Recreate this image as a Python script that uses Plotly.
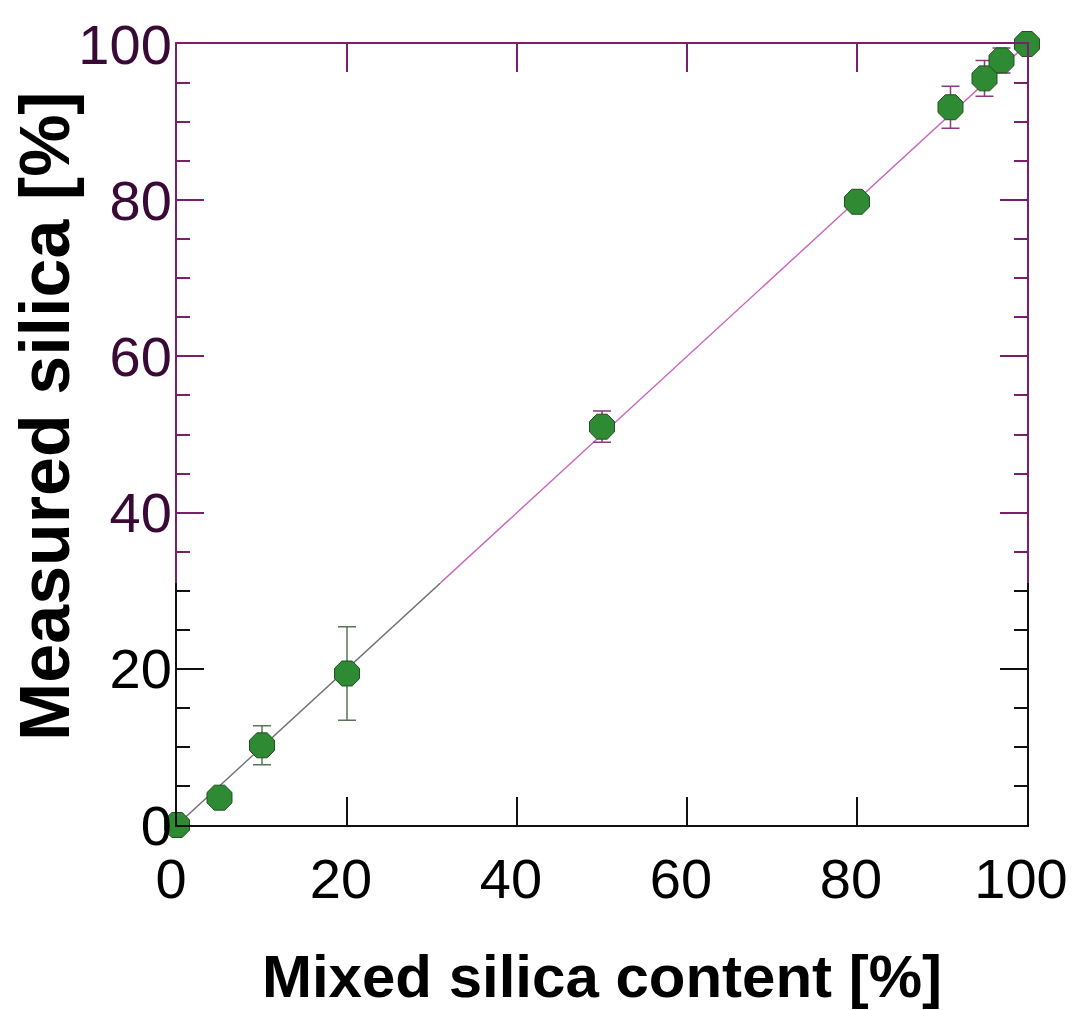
import plotly.graph_objects as go

# ---- data ----
mixed_lower = [0, 5, 10, 20]
measured_lower = [0, 3.5, 10.2, 19.4]
err_lower = [0, 0, 2.5, 6.0]

mixed_upper = [50, 80, 91, 95, 97, 100]
measured_upper = [51.0, 79.8, 91.9, 95.6, 97.9, 100]
err_upper = [2.0, 0.8, 2.7, 2.3, 1.6, 0]

fit_slope = 1.0
fit_intercept = 0.0
color_break = 31  # value where the drawing colour switches

x_ticks = [0, 20, 40, 60, 80, 100]
y_ticks_lower = [0, 20]
y_ticks_upper = [40, 60, 80, 100]
y_minor_lower = [5, 10, 15, 25, 30]
y_minor_upper = [35, 45, 50, 55, 65, 70, 75, 85, 90, 95]

PURPLE = "#7a1f6c"
BLACK = "#111111"
FONT = "Liberation Sans, Arial, Helvetica, sans-serif"

fit_x_lo = [0, color_break]
fit_x_hi = [color_break, 100]

fig = go.Figure()

fig.add_trace(go.Scatter(
    x=fit_x_lo, y=[fit_slope * v + fit_intercept for v in fit_x_lo],
    mode="lines", line=dict(color="#707070", width=1.4),
    xaxis="x", yaxis="y", showlegend=False, hoverinfo="skip"))
fig.add_trace(go.Scatter(
    x=fit_x_hi, y=[fit_slope * v + fit_intercept for v in fit_x_hi],
    mode="lines", line=dict(color="#c864c0", width=1.4),
    xaxis="x", yaxis="y2", showlegend=False, hoverinfo="skip"))

marker = dict(symbol="octagon", size=27, color="#2f8b33",
              line=dict(color="#1e4f1e", width=1))

fig.add_trace(go.Scatter(
    x=mixed_lower, y=measured_lower, mode="markers", marker=marker,
    error_y=dict(type="data", array=err_lower, visible=True,
                 color="#5b735b", thickness=1.5, width=9),
    cliponaxis=False, xaxis="x", yaxis="y", showlegend=False))
fig.add_trace(go.Scatter(
    x=mixed_upper, y=measured_upper, mode="markers", marker=marker,
    error_y=dict(type="data", array=err_upper, visible=True,
                 color="#8a3a80", thickness=1.5, width=9),
    cliponaxis=False, xaxis="x", yaxis="y2", showlegend=False))

# invisible trace so the top axis exists
fig.add_trace(go.Scatter(x=[None], y=[None], xaxis="x2", yaxis="y2",
                         showlegend=False, hoverinfo="skip"))

tickfont_black = dict(family=FONT, size=56, color="#000000")
tickfont_purple = dict(family=FONT, size=56, color="#3a0a36")

fig.update_layout(
    width=1072, height=1010,
    margin=dict(l=177, r=45, t=44, b=185, autoexpand=False),
    paper_bgcolor="white", plot_bgcolor="white",
    xaxis=dict(domain=[0, 1], range=[0, 100], anchor="y", side="bottom",
               automargin=False,
               showline=True, linecolor=BLACK, linewidth=2,
               ticks="inside", ticklen=28, tickwidth=2, tickcolor=BLACK,
               tickvals=x_ticks, tickfont=tickfont_black,
               ticklabelstandoff=4, ticklabelshift=-6,
               ticklabeloverflow="allow",
               showgrid=False, zeroline=False,
               title=dict(text="<b>Mixed silica content [%]</b>",
                          font=dict(family=FONT, size=60, color="#000000"),
                          standoff=46)),
    xaxis2=dict(overlaying="x", matches="x", range=[0, 100], anchor="y2",
                automargin=False,
                side="top", showline=True, linecolor=PURPLE, linewidth=2,
                ticks="inside", ticklen=28, tickwidth=2, tickcolor=PURPLE,
                tickvals=x_ticks, showticklabels=False,
                showgrid=False, zeroline=False),
    yaxis=dict(domain=[0, color_break / 100], range=[0, color_break],
               anchor="x", automargin=False,
               showline=True, linecolor=BLACK, linewidth=2,
               mirror="ticks", ticks="inside", ticklen=27, tickwidth=2,
               tickcolor=BLACK, tickvals=y_ticks_lower,
               tickfont=tickfont_black, ticklabelstandoff=-8,
               ticklabeloverflow="allow",
               minor=dict(tickvals=y_minor_lower, ticks="inside", ticklen=13,
                          tickwidth=2, tickcolor=BLACK),
               showgrid=False, zeroline=False),
    yaxis2=dict(domain=[color_break / 100, 1], range=[color_break, 100],
                anchor="x", automargin=False,
                showline=True, linecolor=PURPLE, linewidth=2,
                mirror="ticks", ticks="inside", ticklen=27, tickwidth=2,
                tickcolor=PURPLE, tickvals=y_ticks_upper,
                tickfont=tickfont_purple, ticklabelstandoff=-8,
                ticklabeloverflow="allow",
                minor=dict(tickvals=y_minor_upper, ticks="inside", ticklen=13,
                           tickwidth=2, tickcolor=PURPLE),
                showgrid=False, zeroline=False),
    annotations=[dict(text="<b>Measured silica [%]</b>", xref="paper",
                      yref="paper", x=-0.155, y=0.524, xanchor="center",
                      yanchor="middle", textangle=-90, showarrow=False,
                      font=dict(family=FONT, size=70, color="#000000"))],
)

fig.write_html("out.html")
